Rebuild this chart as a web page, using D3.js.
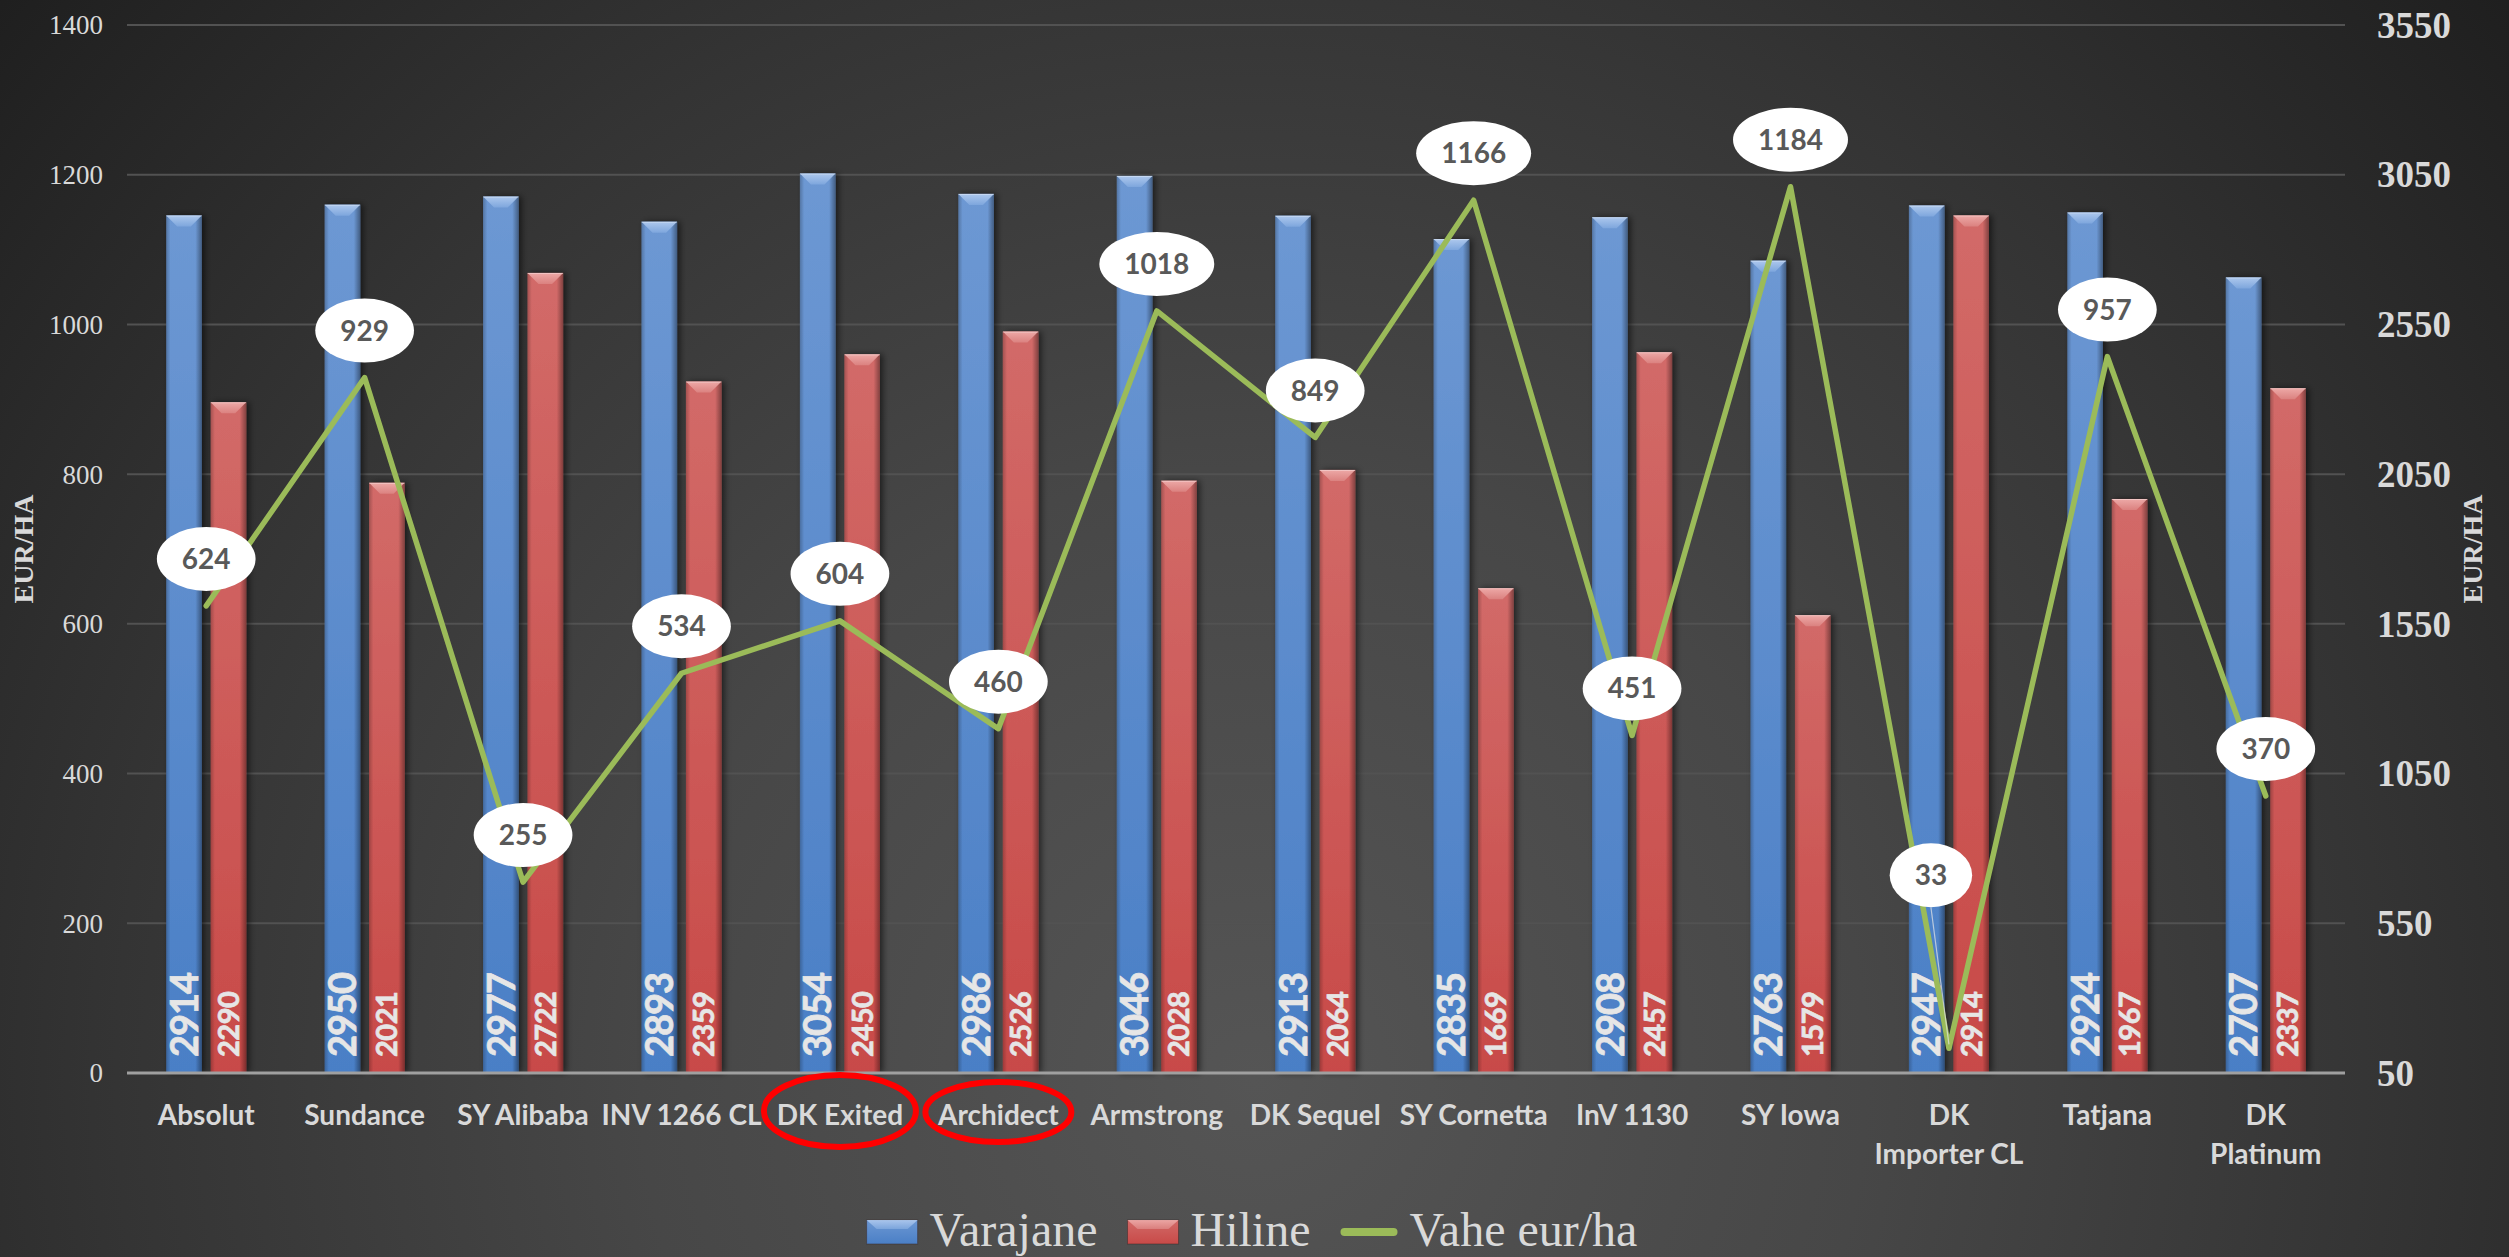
<!DOCTYPE html>
<html><head><meta charset="utf-8">
<script src="https://cdn.jsdelivr.net/npm/d3@7"></script>
<style>html,body{margin:0;padding:0;background:#2a2a2a;overflow:hidden}</style>
</head><body>
<svg id="chart" width="2509" height="1257"></svg>
<script>
// ---------------- DATA ----------------
const categories = ["Absolut","Sundance","SY Alibaba","INV 1266 CL","DK Exited","Archidect","Armstrong","DK Sequel","SY Cornetta","InV 1130","SY Iowa","DK\nImporter CL","Tatjana","DK\nPlatinum"];
const seriesNames = ["Varajane","Hiline","Vahe eur/ha"];
const varajane = [2914,2950,2977,2893,3054,2986,3046,2913,2835,2908,2763,2947,2924,2707];
const hiline   = [2290,2021,2722,2359,2450,2526,2028,2064,1669,2457,1579,2914,1967,2337];
const vahe     = [624,929,255,534,604,460,1018,849,1166,451,1184,33,957,370];
const leftTicks  = [0,200,400,600,800,1000,1200,1400];
const rightTicks = [50,550,1050,1550,2050,2550,3050,3550];
const axisTitle = "EUR/HA";
const highlighted = ["DK Exited","Archidect"];

// ---------------- LAYOUT ----------------
const W = 2509, H = 1257;
const plotL = 127, plotR = 2345, plotT = 25, plotB = 1073;
const svg = d3.select("#chart");
const defs = svg.append("defs");

// background
const bg = defs.append("radialGradient").attr("id","bg").attr("gradientUnits","userSpaceOnUse")
  .attr("cx",1254).attr("cy",1080).attr("r",1750);
[[0,"#555555"],[0.35,"#474747"],[0.65,"#343434"],[1,"#1b1b1b"]].forEach(([o,c])=>bg.append("stop").attr("offset",o).attr("stop-color",c));
svg.append("rect").attr("width",W).attr("height",H).attr("fill","url(#bg)");

// bar gradients
function vgrad(id, top, bottom){
  const g = defs.append("linearGradient").attr("id",id).attr("x1",0).attr("y1",0).attr("x2",0).attr("y2",1);
  g.append("stop").attr("offset",0).attr("stop-color",top);
  g.append("stop").attr("offset",1).attr("stop-color",bottom);
}
vgrad("gBlue","#6d98d3","#4a7fc6");
vgrad("gRed","#d26a68","#c84a48");
vgrad("bevBlue","#b4cdf0","#80a8de");
vgrad("bevRed","#f0b0ae","#dc8482");
const edge = defs.append("linearGradient").attr("id","edge").attr("x1",0).attr("y1",0).attr("x2",1).attr("y2",0);
[[0,"rgba(0,0,0,0.22)"],[0.12,"rgba(0,0,0,0)"],[0.82,"rgba(0,0,0,0)"],[1,"rgba(0,0,0,0.38)"]].forEach(([o,c])=>edge.append("stop").attr("offset",o).attr("stop-color",c));
const sh = defs.append("filter").attr("id","shadow").attr("x","-30%").attr("y","-5%").attr("width","160%").attr("height","110%");
sh.append("feDropShadow").attr("dx",3).attr("dy",0).attr("stdDeviation",3).attr("flood-color","#000").attr("flood-opacity",0.55);

// scales
const x = d3.scaleBand().domain(categories).range([plotL, plotR]).padding(0);
const bw = x.bandwidth();
const x1 = d3.scaleBand().domain(seriesNames.slice(0,2)).range([bw/2-40, bw/2+40]).paddingInner(0.2);
const yLine = d3.scaleLinear().domain([0,1400]).range([plotB, plotT]);
const yBar  = d3.scaleLinear().domain([50,3550]).range([plotB, plotT]);

// gridlines
svg.append("g").selectAll("line").data(leftTicks.filter(d=>d>0)).join("line")
  .attr("x1",plotL).attr("x2",plotR).attr("y1",d=>yLine(d)).attr("y2",d=>yLine(d))
  .attr("stroke","#525252").attr("stroke-width",2);

// left axis
const gl = svg.append("g").attr("transform",`translate(${plotL},0)`)
  .call(d3.axisLeft(yLine).tickValues(leftTicks).tickSize(0).tickPadding(24).tickFormat(d3.format("d")));
gl.select(".domain").remove();
gl.selectAll("text").attr("font-family","'Liberation Serif', serif").attr("font-size",27).attr("fill","#d9d9d9").attr("dy","0.33em");

// right axis
const gr = svg.append("g").attr("transform",`translate(${plotR},0)`)
  .call(d3.axisRight(yBar).tickValues(rightTicks).tickSize(0).tickPadding(32).tickFormat(d3.format("d")));
gr.select(".domain").remove();
gr.selectAll("text").attr("font-family","'Liberation Serif', serif").attr("font-weight","bold").attr("font-size",37).attr("fill","#d9d9d9").attr("dy","0.33em");

// axis titles
svg.append("text").attr("transform",`translate(24,${(plotT+plotB)/2}) rotate(-90)`)
  .attr("text-anchor","middle").attr("dy","0.33em").attr("font-family","'Liberation Serif', serif").attr("font-weight","bold")
  .attr("font-size",28).attr("fill","#d9d9d9").text(axisTitle);
svg.append("text").attr("transform",`translate(2473,${(plotT+plotB)/2}) rotate(-90)`)
  .attr("text-anchor","middle").attr("dy","0.33em").attr("font-family","'Liberation Serif', serif").attr("font-weight","bold")
  .attr("font-size",28).attr("fill","#d9d9d9").text(axisTitle);

// bars
const barData = categories.flatMap((c,i)=>[
  {c, s:"Varajane", v:varajane[i], fill:"url(#gBlue)", bev:"url(#bevBlue)", fs:38, ls:-1},
  {c, s:"Hiline", v:hiline[i], fill:"url(#gRed)", bev:"url(#bevRed)", fs:29, ls:-0.5}
]);
const bars = svg.append("g").selectAll("g").data(barData).join("g");
bars.each(function(d){
  const g = d3.select(this);
  const x0 = x(d.c) + x1(d.s), w = x1.bandwidth();
  const y0 = yBar(d.v), h = plotB - y0;
  g.append("rect").attr("x",x0).attr("y",y0).attr("width",w).attr("height",h).attr("fill",d.fill).attr("filter","url(#shadow)");
  g.append("rect").attr("x",x0).attr("y",y0).attr("width",w).attr("height",h).attr("fill","url(#edge)");
  const b = 11;
  g.append("polygon").attr("points",`${x0},${y0} ${x0+w},${y0} ${x0+w-b},${y0+b} ${x0+b},${y0+b}`).attr("fill",d.bev).attr("opacity",0.9);
  g.append("line").attr("x1",x0).attr("x2",x0+w).attr("y1",y0+0.5).attr("y2",y0+0.5).attr("stroke","rgba(255,255,255,0.35)").attr("stroke-width",1);
  const cx = x0 + w/2 + 0.36*d.fs;
  g.append("text").attr("transform",`translate(${cx},${plotB-16}) rotate(-90)`)
    .attr("font-family","Lato, 'Open Sans', sans-serif").attr("font-weight","bold").attr("font-size",d.fs)
    .attr("letter-spacing",d.ls).attr("fill","#e6e6e6").attr("stroke","#e6e6e6").attr("stroke-width",0.7).text(d.v);
});

// zero axis line
svg.append("line").attr("x1",plotL).attr("x2",plotR).attr("y1",plotB).attr("y2",plotB)
  .attr("stroke","#a0a0a0").attr("stroke-width",3);

// category labels
const cl = svg.append("g").selectAll("text").data(categories).join("text")
  .attr("x",d=>x(d)+bw/2).attr("y",1125).attr("text-anchor","middle")
  .attr("font-family","Lato, 'Open Sans', sans-serif").attr("font-weight","bold").attr("font-size",28).attr("fill","#d9d9d9");
cl.each(function(d){
  const t = d3.select(this);
  d.split("\n").forEach((line,i)=>t.append("tspan").attr("x",x(d)+bw/2).attr("dy",i===0?0:39).text(line));
});

// highlight ellipses
svg.append("g").selectAll("ellipse").data(highlighted).join("ellipse")
  .attr("cx",d=>x(d)+bw/2).attr("cy",(d,i)=>i===0?1111:1112)
  .attr("rx",(d,i)=>i===0?76:73).attr("ry",(d,i)=>i===0?36:30)
  .attr("fill","none").attr("stroke","#ff0000").attr("stroke-width",6);

// line series
const lineData = categories.map((c,i)=>({c, v:vahe[i]}));
const lineGen = d3.line().x(d=>x(d.c)+bw/2).y(d=>yLine(d.v));
svg.append("path").datum(lineData).attr("d",lineGen).attr("fill","none")
  .attr("stroke","#9bbb59").attr("stroke-width",5.5).attr("stroke-linejoin","round").attr("stroke-linecap","round");

// line data labels
const labelNudge = {"DK\nImporter CL": {dx:-18, dy:-126}};
const lbl = svg.append("g").selectAll("g").data(lineData).join("g");
lbl.each(function(d){
  const g = d3.select(this);
  const px = x(d.c)+bw/2, py = yLine(d.v);
  const n = labelNudge[d.c] || {dx:0, dy:0};
  const cx = px + n.dx, cy = py - 47 + n.dy;
  if (labelNudge[d.c]) {
    g.append("line").attr("x1",cx).attr("y1",cy+32).attr("x2",px).attr("y2",py-4)
      .attr("stroke","rgba(230,230,230,0.7)").attr("stroke-width",1.2);
  }
  const e = g.append("ellipse").attr("cx",cx).attr("cy",cy).attr("ry",32).attr("fill","#ffffff");
  const t = g.append("text").attr("x",cx).attr("y",cy).attr("dy","0.36em").attr("text-anchor","middle")
    .attr("font-family","Lato, 'Open Sans', sans-serif").attr("font-weight","bold").attr("font-size",28)
    .attr("fill","#595959").text(d.v);
  const tw = t.node().getComputedTextLength();
  e.attr("rx", tw/2 + 25);
});

// legend
const leg = svg.append("g");
const items = [
  {name:seriesNames[0], type:"bar", fill:"url(#gBlue)", bev:"url(#bevBlue)"},
  {name:seriesNames[1], type:"bar", fill:"url(#gRed)", bev:"url(#bevRed)"},
  {name:seriesNames[2], type:"line"}
];
let cur = 0;
const legY = 1232;
items.forEach(it=>{
  const g = leg.append("g").attr("transform",`translate(${cur},0)`);
  let sw;
  if (it.type==="bar"){
    sw = 51;
    g.append("rect").attr("x",0).attr("y",legY-12).attr("width",51).attr("height",24).attr("fill",it.fill)
      .attr("stroke","#3a2a2a").attr("stroke-opacity",0.5);
    g.append("polygon").attr("points",`0,${legY-12} 51,${legY-12} 41,${legY-3} 10,${legY-3}`).attr("fill",it.bev).attr("opacity",0.85);
  } else {
    sw = 57;
    g.append("line").attr("x1",4).attr("x2",53).attr("y1",legY).attr("y2",legY)
      .attr("stroke","#9bbb59").attr("stroke-width",8).attr("stroke-linecap","round");
  }
  const t = g.append("text").attr("x",sw+12).attr("y",legY+14).attr("font-family","'Liberation Serif', serif")
    .attr("font-size",48).attr("fill","#d9d9d9").text(it.name);
  cur += sw + 12 + t.node().getComputedTextLength() + 30;
});
const legW = cur - 30;
leg.attr("transform",`translate(${(plotL+plotR)/2 - legW/2 + 16},0)`);
</script>
</body></html>
